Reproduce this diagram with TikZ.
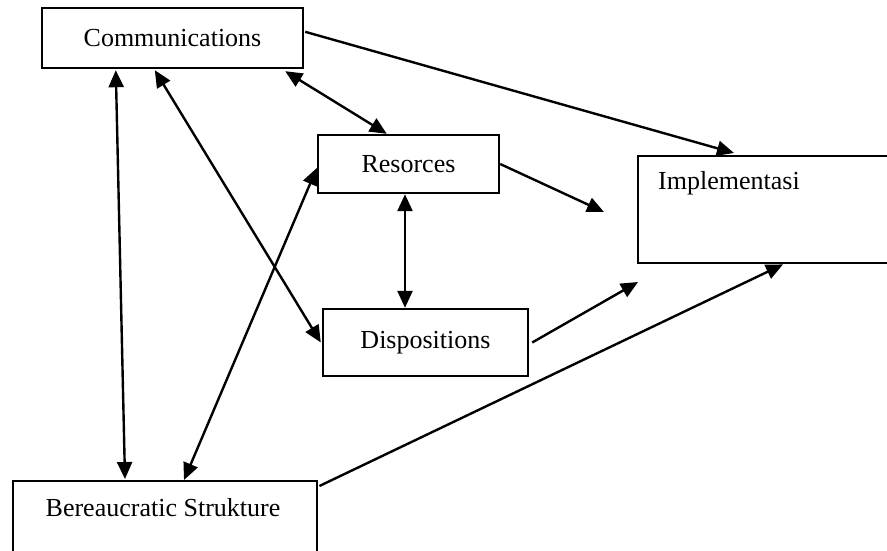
\documentclass[tikz,border=0pt]{standalone}
\usepackage{fontspec}
\setmainfont{Liberation Serif}
\usetikzlibrary{arrows.meta,calc}
\begin{document}
\begin{tikzpicture}[x=1pt,y=-1pt,
  box/.style={draw, line width=2.4pt, rectangle, inner sep=0pt, font=\fontsize{26}{30}\selectfont},
  lbl/.style={inner sep=0pt, font=\fontsize{26}{30}\selectfont},
  conn/.style={line width=2.4pt, -{Triangle[length=17pt,width=15pt]}},
  dconn/.style={line width=2.4pt, {Triangle[length=17pt,width=15pt]}-{Triangle[length=17pt,width=15pt]}}]
\useasboundingbox (0,0) rectangle (887,550);
\clip (0,0) rectangle (887,550);
\node[box, minimum width=261pt, minimum height=60pt] (comm) at (172.5,38) {Communications};
\node[box, minimum width=181pt, minimum height=58pt] (res) at (408.5,164) {Resorces};
\node[box, minimum width=205pt, minimum height=67pt] (disp) at (425.5,342.5) {Dispositions};
\node[box, minimum width=300pt, minimum height=107pt, anchor=north west] (impl) at (637,155) {};
\node[lbl, anchor=west] (impltxt) at (658,183) {Implementasi};
\node[box, minimum width=304pt, minimum height=120pt, anchor=north west] (bur) at (12,480) {};
\node[lbl] (burtxt) at (163,508) {Bereaucratic Strukture};
\coordinate (resend) at (604,212);
\coordinate (dispend) at (638,282);
\draw[dconn] ($(comm.south west)+(75,1)$) -- ($(bur.north west)+(113,-1)$);
\draw[dconn] ($(comm.south west)+(114,1)$) -- ($(disp.west)+(-1,0)$);
\draw[dconn] ($(comm.south east)+(-19,2)$) -- ($(res.north west)+(70,0)$);
\draw[conn] ($(comm.north east)+(1,25)$) -- ($(impl.north west)+(97,-2)$);
\draw[conn] (res.east) -- (resend);
\draw[dconn] ($(res.south)+(-3.5,0)$) -- ($(disp.north)+(-20.5,0)$);
\draw[conn] ($(disp.east)+(3,0)$) -- (dispend);
\draw[conn] ($(bur.north east)+(1,6)$) -- ($(impl.south west)+(146,0)$);
\draw[dconn] ($(bur.north west)+(172,0)$) -- ($(res.west)+(0,4)$);
\end{tikzpicture}
\end{document}
